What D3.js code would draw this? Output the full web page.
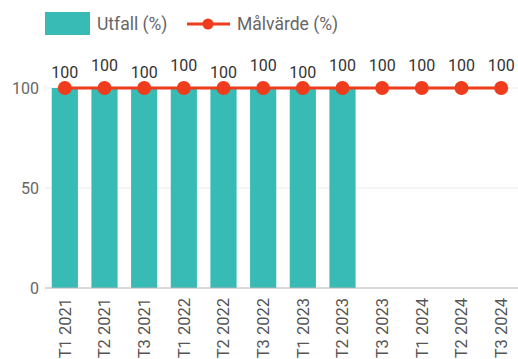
<!DOCTYPE html>
<html>
<head>
<meta charset="utf-8">
<script src="https://cdn.jsdelivr.net/npm/d3@7/dist/d3.min.js"></script>
<style>
  html, body { margin: 0; padding: 0; background: #fff; }
  svg { display: block; font-family: Roboto, "Noto Sans", sans-serif; }
</style>
</head>
<body>
<svg id="chart" width="518" height="359"></svg>
<script>
// Period labels along the x axis
const categories = ["T1 2021", "T2 2021", "T3 2021", "T1 2022", "T2 2022", "T3 2022",
                    "T1 2023", "T2 2023", "T3 2023", "T1 2024", "T2 2024", "T3 2024"];
// Outcome (%) — reported periods only
const utfall = [100, 100, 100, 100, 100, 100, 100, 100, null, null, null, null];
// Target value (%)
const malvarde = [100, 100, 100, 100, 100, 100, 100, 100, 100, 100, 100, 100];
const yTicks = [0, 50, 100];
const seriesNames = ["Utfall (%)", "Målvärde (%)"];

const teal = "#38bab5";
const red = "#ef3c1c";

const svg = d3.select("#chart");
const margin = { left: 45, right: -3, top: 88, bottom: 71 };
const W = 518, H = 359;

const x = d3.scaleBand()
  .domain(categories)
  .range([margin.left, W - margin.right])
  .paddingInner(0.34)
  .paddingOuter(0.17);

const y = d3.scaleLinear()
  .domain([0, 100])
  .range([H - margin.bottom, margin.top]);

// Gridlines
svg.append("g")
  .selectAll("line")
  .data(yTicks.filter(d => d !== 0))
  .join("line")
  .attr("x1", margin.left).attr("x2", W)
  .attr("y1", d => y(d)).attr("y2", d => y(d))
  .attr("stroke", "#ebebeb").attr("stroke-width", 1);

// Y axis labels
const yAxis = d3.axisLeft(y).tickValues(yTicks).tickSize(0).tickPadding(6);
svg.append("g")
  .attr("transform", `translate(${margin.left},0)`)
  .call(yAxis)
  .call(g => g.select(".domain").remove())
  .call(g => g.selectAll("text")
    .attr("fill", "#666").attr("font-size", 16).attr("font-family", "Roboto, sans-serif"));

// Bars
svg.append("g")
  .selectAll("rect")
  .data(categories.map((c, i) => ({ c, v: utfall[i] })).filter(d => d.v != null))
  .join("rect")
  .attr("x", d => x(d.c))
  .attr("width", x.bandwidth())
  .attr("y", d => y(d.v))
  .attr("height", d => y(0) - y(d.v))
  .attr("fill", teal);

// Baseline
svg.append("line")
  .attr("x1", margin.left).attr("x2", W)
  .attr("y1", y(0)).attr("y2", y(0))
  .attr("stroke", "#b5b5b5").attr("stroke-width", 1.2);

// X axis labels (rotated)
const xAxis = d3.axisBottom(x).tickSize(0).tickPadding(0);
svg.append("g")
  .attr("transform", `translate(0,${y(0)})`)
  .call(xAxis)
  .call(g => g.select(".domain").remove())
  .call(g => g.selectAll("text")
    .attr("transform", "rotate(-90)")
    .attr("text-anchor", "end")
    .attr("dy", "0.35em")
    .attr("x", -10)
    .attr("y", 0)
    .attr("fill", "#555").attr("font-size", 16.5).attr("font-family", "Roboto, sans-serif"));

// Target line with markers
const cx = d => x(d) + x.bandwidth() / 2;
const line = d3.line()
  .x((d, i) => cx(categories[i]))
  .y(d => y(d));
svg.append("path")
  .datum(malvarde)
  .attr("d", line)
  .attr("fill", "none")
  .attr("stroke", red)
  .attr("stroke-width", 3);

svg.append("g")
  .selectAll("circle")
  .data(malvarde)
  .join("circle")
  .attr("cx", (d, i) => cx(categories[i]))
  .attr("cy", d => y(d))
  .attr("r", 7)
  .attr("fill", red);

// Value labels; alternate heights where bar and target labels compete
svg.append("g")
  .selectAll("text")
  .data(malvarde)
  .join("text")
  .attr("x", (d, i) => cx(categories[i]))
  .attr("y", (d, i) => y(d) - ((i < 8 && i % 2 === 0) ? 10 : 17))
  .attr("text-anchor", "middle")
  .attr("font-size", 16)
  .attr("fill", "#333")
  .text(d => d);

// Legend
const legend = svg.append("g");
legend.append("rect")
  .attr("x", 45).attr("y", 12).attr("width", 45).attr("height", 23)
  .attr("fill", teal);
legend.append("text")
  .attr("x", 97).attr("y", 30)
  .attr("font-size", 17.5).attr("fill", "#666")
  .text(seriesNames[0]);
legend.append("line")
  .attr("x1", 187).attr("x2", 230).attr("y1", 24).attr("y2", 24)
  .attr("stroke", red).attr("stroke-width", 3);
legend.append("circle")
  .attr("cx", 208).attr("cy", 24).attr("r", 5.5).attr("fill", red);
legend.append("text")
  .attr("x", 237).attr("y", 30)
  .attr("font-size", 17.5).attr("fill", "#666")
  .text(seriesNames[1]);
</script>
</body>
</html>
